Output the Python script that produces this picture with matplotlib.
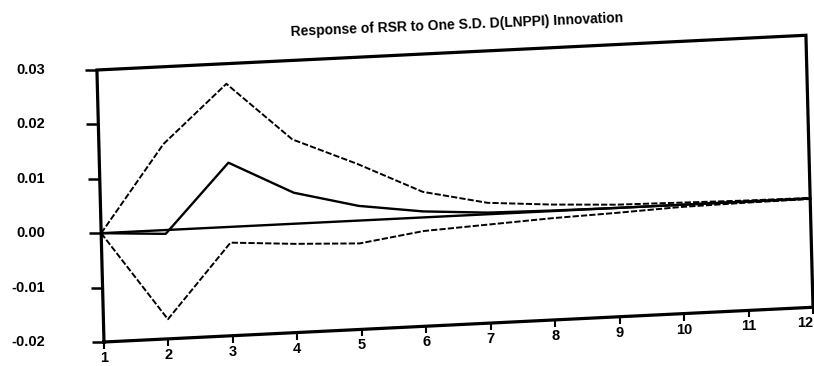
import matplotlib
matplotlib.use("Agg")
import matplotlib.pyplot as plt
from matplotlib import markers
from matplotlib.transforms import Affine2D, offset_copy

plt.rcParams["font.family"] = ["Liberation Sans", "DejaVu Sans"]

steps = list(range(1, 13))
response = [0.0, -0.0007, 0.0118, 0.0057, 0.0027, 0.0011, 0.0003, 0.0001, 0.0, 0.0, 0.0, 0.0]
upper_band = [0.0, 0.0158, 0.0263, 0.0155, 0.0104, 0.0047, 0.0021, 0.0012, 0.0006, 0.0004, 0.0002, 0.0001]
lower_band = [0.0, -0.0164, -0.0029, -0.0037, -0.0042, -0.0025, -0.0019, -0.0013, -0.0009, -0.0004, -0.0002, -0.0001]
y_ticks = [0.03, 0.02, 0.01, 0.00, -0.01, -0.02]
y_tick_labels = ["0.03", "0.02", "0.01", "0.00", "-0.01", "-0.02"]
title = "Response of RSR to One S.D. D(LNPPI) Innovation"

W, H = 814, 366
fig = plt.figure(figsize=(W / 100, H / 100), dpi=100)
x0, y0, w, h = 104, 24, 709, 272
ax = fig.add_axes([x0 / W, y0 / H, w / W, h / H])
ax.set_xlim(steps[0], steps[-1])
ax.set_ylim(y_ticks[-1], y_ticks[0])
ax.axis("off")

# slanted frame: everything is drawn through this shear (pixels, about the lower left corner)
shear = (Affine2D().translate(-x0, -y0)
         + Affine2D.from_values(1, 0.049, -0.026, 1, 0, 0)
         + Affine2D().translate(x0, y0))
tr = ax.transData + shear

lo, hi = y_ticks[-1], y_ticks[0]
first, last = steps[0], steps[-1]

# box and zero line
ax.plot([first, last, last, first, first], [lo, lo, hi, hi, lo], color="black",
        lw=2.3, transform=tr, clip_on=False, solid_joinstyle="miter")
ax.plot([first, last], [0, 0], color="black", lw=1.7, transform=tr, clip_on=False)

# impulse response and +/- 2 S.E. bands
ax.plot(steps, response, color="black", lw=1.7, transform=tr, clip_on=False)
for band in (upper_band, lower_band):
    ax.plot(steps, band, color="black", lw=1.4, dashes=(3.2, 1.1),
            transform=tr, clip_on=False)

# ticks
ax.plot(steps, [lo] * len(steps), ls="none", marker=markers.TICKDOWN, ms=5,
        mew=1.5, color="black", transform=tr, clip_on=False)
ax.plot([first] * len(y_ticks), y_ticks, ls="none", marker=markers.TICKLEFT, ms=9,
        mew=1.8, color="black", transform=tr, clip_on=False)

label_tr = offset_copy(tr, fig=fig, y=-9, units="dots")
for s in steps:
    ax.text(s, lo, str(s), transform=label_tr, ha="right" if s == last else "center",
            va="top", fontsize=10.5, fontweight="bold", clip_on=False)

for v, lab in zip(y_ticks, y_tick_labels):
    px, py = tr.transform((first, v))
    fig.text(45 / W, py / H, lab, ha="right", va="center",
             fontsize=10.5, fontweight="bold")

fig.text(457 / W, 1 - 25.5 / H, title, rotation=2.4, rotation_mode="anchor",
         ha="center", va="center", fontsize=10, fontweight="bold")

fig.savefig("out.png", dpi=100)
